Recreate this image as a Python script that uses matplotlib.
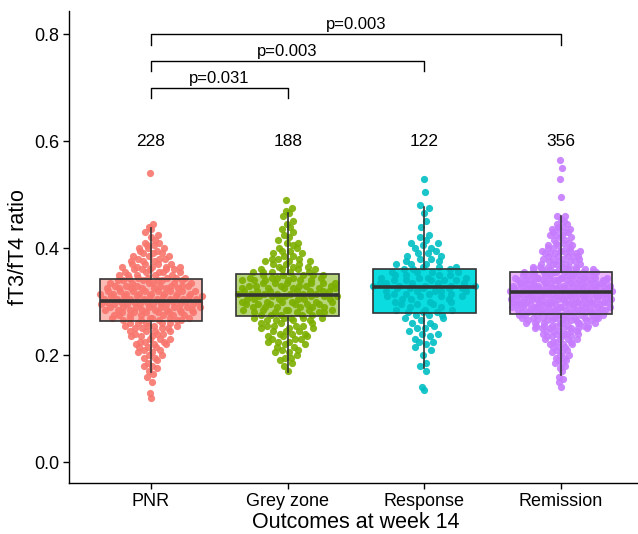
import numpy as np
import matplotlib
matplotlib.use('Agg')
import matplotlib.pyplot as plt

# ---------------- data ----------------
groups = ['PNR', 'Grey zone', 'Response', 'Remission']
group_n = [228, 188, 122, 356]
colors = ['#F8766D', '#7CAE00', '#00BFC4', '#C77CFF']
box_fill = ['#FCBAB5', '#B7D67C', '#0BDCE0', '#EDB8FC']

# value histograms (step 0.005) read from the point cloud
step = 0.005
pnr_start = 0.120
pnr_counts = [1, 0, 1, 0, 0, 0, 1, 0, 1, 1, 1, 1, 2, 1, 1, 2,
              2, 2, 2, 3, 3, 3, 3, 3, 3, 4, 4, 4, 5, 5, 6, 7,
              7, 8, 8, 8, 8, 8, 8, 8, 8, 7, 7, 6, 6, 6, 5, 5,
              5, 5, 4, 3, 3, 3, 3, 2, 3, 2, 2, 1, 1, 1, 1, 1, 1, 1]
pnr_extra = [0.540]

grey_start = 0.170
grey_counts = [1, 0, 1, 1, 1, 2, 1, 2, 2, 2, 2, 3, 3, 3, 3, 3,
               3, 4, 3, 4, 5, 5, 5, 6, 6, 6, 6, 6, 6, 7, 7, 6,
               6, 6, 6, 5, 5, 5, 4, 3, 3, 3, 3, 2, 2, 2, 2, 1,
               2, 1, 1, 1, 1, 1, 1, 1, 1, 0, 1, 1, 1, 1, 0, 0, 1]
grey_extra = []

resp_start = 0.135
resp_counts = [1, 1, 0, 0, 0, 0, 0, 1, 0, 1, 1, 0, 0, 1, 0,
               1, 1, 1, 2, 1, 1, 2, 1, 2, 1, 2, 1,
               2, 3, 3, 3, 2, 3, 3, 3, 4, 4, 5, 5, 5, 5, 5, 4,
               4, 4, 3, 3, 3, 2, 2, 2, 2, 1, 2, 1, 2, 1, 1, 1,
               0, 0, 1, 0, 1, 0, 0, 1, 0, 1, 1]
resp_extra = [0.505, 0.530]

remi_start = 0.140
remi_counts = [1, 0, 1, 1, 1, 0, 1, 1, 1, 2, 2, 2, 2, 2, 2, 3,
               3, 3, 4, 4, 5, 5, 7, 7, 8, 9, 10, 10, 11, 11, 11, 12,
               12, 12, 12, 12, 12, 12, 12, 11, 11, 11, 10, 10, 8, 6, 5, 4,
               4, 5, 5, 5, 4, 3, 3, 2, 2, 3, 3, 3, 2, 2, 1, 1, 2]
remi_extra = [0.495, 0.530, 0.550, 0.565]

# box statistics: whisker low, Q1, median, Q3, whisker high
whis_lo = [0.169, 0.169, 0.175, 0.163]
q1 = [0.264, 0.2735, 0.278, 0.276]
med = [0.3015, 0.313, 0.328, 0.317]
q3 = [0.342, 0.351, 0.361, 0.3545]
whis_hi = [0.437, 0.465, 0.477, 0.460]

comparisons = [(0, 1), (0, 2), (0, 3)]
p_labels = ['p=0.031', 'p=0.003', 'p=0.003']
bracket_y = [0.70, 0.75, 0.80]


def expand(start, counts, extra):
    vals = []
    for i, c in enumerate(counts):
        vals += [round(start + i * step, 4)] * c
    return np.array(sorted(vals + list(extra)))


data = [expand(pnr_start, pnr_counts, pnr_extra),
        expand(grey_start, grey_counts, grey_extra),
        expand(resp_start, resp_counts, resp_extra),
        expand(remi_start, remi_counts, remi_extra)]


# quasirandom layout (like ggbeeswarm::geom_quasirandom)
def van_der_corput(n, base=2):
    out = []
    for k in range(1, n + 1):
        q, denom, x = k, 1.0, 0.0
        while q:
            denom *= base
            q, r = divmod(q, base)
            x += r / denom
        out.append(x)
    return np.array(out)


def quasirandom(vals, width=0.4, adjust=0.5):
    n = len(vals)
    sd = np.std(vals, ddof=1)
    iqr = np.subtract(*np.percentile(vals, [75, 25]))
    bw = 0.9 * min(sd, iqr / 1.34) * n ** (-0.2) * adjust
    grid = np.linspace(vals.min() - 3 * bw, vals.max() + 3 * bw, 512)
    dens_grid = np.exp(-0.5 * ((grid[:, None] - vals[None, :]) / bw) ** 2).sum(1)
    dens = np.interp(vals, grid, dens_grid) / dens_grid.max()
    order = np.argsort(vals, kind='stable')
    ranks = np.empty(n, int)
    ranks[order] = np.arange(n)
    vdc = van_der_corput(n)
    return (vdc[ranks] - 0.5) * 2 * width * dens


# ---------------- figure ----------------
plt.rcParams['font.family'] = ['Liberation Sans', 'DejaVu Sans']
W, H, DPI = 638, 534, 100
fig = plt.figure(figsize=(W / DPI, H / DPI), dpi=DPI)
ax_l, ax_r, ax_t, ax_b = 69, 643, 11, 483
ax = fig.add_axes([ax_l / W, 1 - ax_b / H, (ax_r - ax_l) / W, (ax_b - ax_t) / H])
ax.set_xlim(0.4, 4.6)
ax.set_ylim(-0.039, 0.843)

box_w = 0.75
line_c = '#333333'
for i, vals in enumerate(data):
    x0 = i + 1
    ax.add_patch(plt.Rectangle((x0 - box_w / 2, q1[i]), box_w, q3[i] - q1[i],
                               facecolor=box_fill[i], edgecolor='none', zorder=1))
    offs = quasirandom(vals, width=0.385)
    ax.scatter(x0 + offs, vals, s=27, color=colors[i], alpha=0.9,
               linewidths=0, zorder=2)
    ax.add_patch(plt.Rectangle((x0 - box_w / 2, q1[i]), box_w, q3[i] - q1[i],
                               facecolor='none', edgecolor=line_c, lw=1.2, zorder=3))
    ax.plot([x0, x0], [q3[i], whis_hi[i]], color=line_c, lw=1.2, zorder=3)
    ax.plot([x0, x0], [whis_lo[i], q1[i]], color=line_c, lw=1.2, zorder=3)
    ax.plot([x0 - box_w / 2, x0 + box_w / 2], [med[i], med[i]], color=line_c,
            lw=2.6, zorder=3, solid_capstyle='butt')
    ax.text(x0, 0.6, str(group_n[i]), ha='center', va='center', fontsize=12.5,
            color='black')

tick_h = 0.02
for (a, b), lab, yb in zip(comparisons, p_labels, bracket_y):
    xa, xb = a + 1, b + 1
    ax.plot([xa, xa, xb, xb], [yb - tick_h, yb, yb, yb - tick_h], color='black',
            lw=1.0, zorder=4)
    ax.text((xa + xb) / 2, yb + 0.003, lab, ha='center', va='bottom',
            fontsize=12, color='black')

ax.set_xticks(range(1, 5))
ax.set_xticklabels(groups)
ax.set_yticks([0.0, 0.2, 0.4, 0.6, 0.8])
ax.set_yticklabels(['0.0', '0.2', '0.4', '0.6', '0.8'])
ax.tick_params(axis='both', labelsize=13, labelcolor='black', color='black',
               length=4, width=1.0, pad=3)
for s in ['top', 'right']:
    ax.spines[s].set_visible(False)
for s in ['left', 'bottom']:
    ax.spines[s].set_linewidth(1.0)
ax.set_xlabel('Outcomes at week 14', fontsize=15.5, labelpad=2)
ax.set_ylabel('fT3/fT4 ratio', fontsize=15.5, labelpad=4)

fig.savefig('out.png', dpi=DPI)
